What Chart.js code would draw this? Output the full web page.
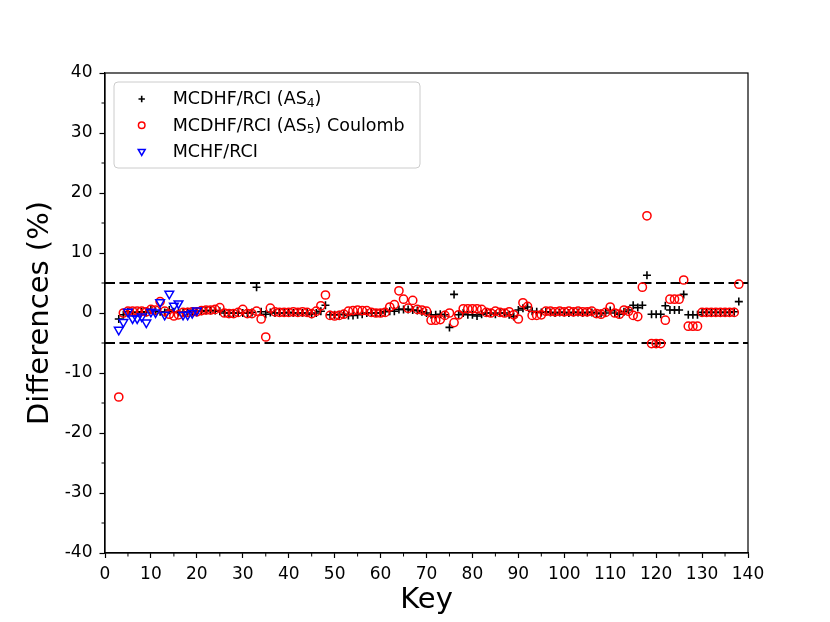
<!DOCTYPE html>
<html><head><meta charset="utf-8">
<script src="https://cdn.jsdelivr.net/npm/chart.js@4.4.1/dist/chart.umd.min.js"></script>
<style>html,body{margin:0;padding:0;background:#fff;}#wrap{width:830px;height:622px;}</style>
</head><body><div id="wrap"><canvas id="c" width="830" height="622"></canvas></div>
<script>
// ---- data ----
const keysAS4 = [3,4,5,6,7,8,9,10,11,12,13,14,15,16,17,18,19,20,21,22,23,24,25,26,27,28,29,30,31,32,33,34,35,36,37,38,39,40,41,42,43,44,45,46,47,48,49,50,51,52,53,54,55,56,57,58,59,60,61,62,63,64,65,66,67,68,69,70,71,72,73,74,75,76,77,78,79,80,81,82,83,84,85,86,87,88,89,90,91,92,93,94,95,96,97,98,99,100,101,102,103,104,105,106,107,108,109,110,111,112,113,114,115,116,117,118,119,120,121,122,123,124,125,126,127,128,129,130,131,132,133,134,135,136,137,138,120];
const diffAS4 = [-1.0,-0.3,0.2,0.1,0.1,0.2,0.1,0.5,0.3,0.2,0.1,0.5,0.2,0.1,0.1,0.2,0.2,0.3,0.3,0.4,0.4,0.4,0.3,0.0,0.0,0.0,0.0,0.0,0.0,0.1,4.3,0.2,-0.2,0.1,0.0,0.0,0.0,0.1,0.0,0.0,0.0,0.0,-0.2,0.0,0.3,1.3,-0.3,-0.3,-0.3,-0.2,-0.4,-0.4,-0.3,-0.2,0.0,0.0,0.0,0.0,0.2,0.3,0.3,0.6,0.6,0.6,0.5,0.4,0.2,0.0,-0.3,-0.3,-0.2,-0.3,-2.4,3.1,-0.3,0.0,-0.3,-0.3,-0.5,-0.2,0.0,0.0,-0.2,0.0,0.0,-0.3,-0.6,0.5,0.8,1.0,0.3,0.2,0.1,0.2,0.1,0.0,0.1,0.1,0.0,0.1,0.1,0.0,0.1,0.1,0.0,-0.1,0.0,0.4,0.0,-0.2,0.2,0.5,1.3,0.9,1.3,6.3,-0.2,-0.2,-0.2,1.2,0.5,0.5,0.5,3.1,-0.3,-0.3,-0.3,0.1,0.1,0.1,0.1,0.1,0.1,0.1,0.2,1.9,-5.1];

const keysAS5 = [3,4,5,6,7,8,9,10,11,12,13,14,15,16,17,18,19,20,21,22,23,24,25,26,27,28,29,30,31,32,33,34,35,36,37,38,39,40,41,42,43,44,45,46,47,48,49,50,51,52,53,54,55,56,57,58,59,60,61,62,63,64,65,66,67,68,69,70,71,72,73,74,75,76,77,78,79,80,81,82,83,84,85,86,87,88,89,90,91,92,93,94,95,96,97,98,99,100,101,102,103,104,105,106,107,108,109,110,111,112,113,114,115,116,117,118,119,120,121,122,123,124,125,126,127,128,129,130,131,132,133,134,135,136,137,138];
const diffAS5 = [-14.0,0.0,0.3,0.3,0.3,0.3,0.2,0.6,0.5,1.9,0.3,-0.2,-0.5,-0.3,0.1,0.1,0.2,0.2,0.4,0.5,0.5,0.6,0.9,0.0,-0.1,-0.1,0.1,0.6,-0.1,-0.1,0.3,-1.0,-4.0,0.8,0.2,0.1,0.1,0.1,0.2,0.1,0.2,0.1,-0.1,0.3,1.2,3.0,-0.4,-0.5,-0.4,-0.2,0.3,0.4,0.5,0.4,0.4,0.1,0.0,0.0,0.1,1.0,1.4,3.7,2.3,0.8,2.1,0.6,0.5,0.3,-1.2,-1.2,-1.1,-0.4,0.0,-1.6,-0.3,0.7,0.7,0.7,0.7,0.6,0.1,0.0,0.3,0.1,0.0,0.2,-0.3,-1.0,1.7,1.1,-0.4,-0.4,-0.3,0.3,0.3,0.2,0.3,0.2,0.3,0.2,0.3,0.2,0.2,0.3,-0.1,-0.2,0.1,1.0,0.0,-0.2,0.5,0.3,-0.4,-0.6,4.3,16.2,-5.1,-5.1,-5.1,-1.2,2.3,2.3,2.3,5.5,-2.2,-2.2,-2.2,0.1,0.1,0.1,0.1,0.1,0.1,0.1,0.1,4.8];

const keysMCHF = [3,4,5,6,7,8,9,10,11,12,13,14,15,16,17,18,19,20];
const diffMCHF = [-2.8,-1.5,0.2,-0.9,-0.9,-0.6,-1.6,0.2,0.1,1.8,-0.3,3.2,1.2,1.6,-0.3,-0.3,0.0,0.4];

const limitKeys = [0,140];
const upperLimit = [5,5];
const lowerLimit = [-5,-5];

const xTickMinor = [5,15,25,35,45,55,65,75,85,95,105,115,125,135];
const yTickMinor = [-35,-25,-15,-5,5,15,25,35];

const legendLabels = [
  [['MCDHF/RCI (AS',0],['4',1],[')',0]],
  [['MCDHF/RCI (AS',0],['5',1],[') Coulomb',0]],
  [['MCHF/RCI',0]]
];

const pts = (k,v) => k.map((x,i)=>({x:x,y:v[i]}));
const FONT = '"DejaVu Sans", "Liberation Sans", sans-serif';

const ds = [
  {label:'MCDHF/RCI (AS4)', data:pts(keysAS4,diffAS4), pointStyle:'cross', radius:4, borderColor:'#000', backgroundColor:'#000', borderWidth:1.6, showLine:false, order:3},
  {label:'MCDHF/RCI (AS5) Coulomb', data:pts(keysAS5,diffAS5), pointStyle:'circle', radius:4.1, borderColor:'#ff0000', backgroundColor:'rgba(0,0,0,0)', borderWidth:1.5, showLine:false, order:2},
  {label:'MCHF/RCI', data:pts(keysMCHF,diffMCHF), pointStyle:'triangle', rotation:180, radius:5, borderColor:'#0000ff', backgroundColor:'rgba(0,0,0,0)', borderWidth:1.5, showLine:false, order:1},
  {type:'line', label:'upper', data:pts(limitKeys,upperLimit), borderColor:'#000', borderWidth:1.9, borderDash:[10,4.5], pointRadius:0, fill:false, order:4},
  {type:'line', label:'lower', data:pts(limitKeys,lowerLimit), borderColor:'#000', borderWidth:1.9, borderDash:[10,4.5], pointRadius:0, fill:false, order:4}
];

const decor = {
  id:'decor',
  afterDraw(chart){
    const {ctx, chartArea:a, scales} = chart;
    const x = scales.x, y = scales.y;
    ctx.save();
    ctx.strokeStyle = '#000';
    ctx.lineWidth = 1.2;
    ctx.strokeRect(a.left, a.top, a.right-a.left, a.bottom-a.top);
    ctx.lineWidth = 1;
    xTickMinor.forEach(v=>{const p=x.getPixelForValue(v);ctx.beginPath();ctx.moveTo(p,a.bottom);ctx.lineTo(p,a.bottom+3.5);ctx.stroke();});
    yTickMinor.forEach(v=>{const p=y.getPixelForValue(v);ctx.beginPath();ctx.moveTo(a.left,p);ctx.lineTo(a.left-3.5,p);ctx.stroke();});
    // legend
    const bx = a.left+9, by = a.top+9, bw = 306, bh = 86;
    ctx.beginPath();
    ctx.roundRect(bx, by, bw, bh, 4);
    ctx.fillStyle = 'rgba(255,255,255,0.8)';
    ctx.fill();
    ctx.strokeStyle = '#cccccc';
    ctx.lineWidth = 1;
    ctx.stroke();
    const base = [a.top+31.3, a.top+57.5, a.top+83.7];
    ds.slice(0,3).forEach((d,i)=>{
      ctx.strokeStyle = d.borderColor;
      ctx.fillStyle = d.backgroundColor;
      ctx.lineWidth = d.borderWidth;
      Chart.helpers.drawPoint(ctx, {pointStyle:d.pointStyle, radius:d.radius*0.8, rotation:d.rotation||0, borderWidth:d.borderWidth}, a.left+36.7, base[i]-5.3);
      let tx = a.left+67.7;
      ctx.fillStyle = '#000';
      ctx.textBaseline = 'alphabetic';
      ctx.textAlign = 'left';
      legendLabels[i].forEach(([t,sub])=>{
        ctx.font = (sub? '12.3px ' : '17.5px ') + FONT;
        ctx.fillText(t, tx, base[i] + (sub?2.6:0));
        tx += ctx.measureText(t).width;
      });
    });
    ctx.restore();
  }
};

new Chart(document.getElementById('c'), {
  type:'scatter',
  data:{datasets:ds},
  options:{
    responsive:false, animation:false,
    layout:{padding:{left:0,top:73,right:82,bottom:0}},
    plugins:{legend:{display:false}, tooltip:{enabled:false}},
    scales:{
      x:{type:'linear', min:0, max:140,
        ticks:{stepSize:10, color:'#000', font:{family:FONT,size:17}, padding:6, maxRotation:0},
        grid:{display:true, drawOnChartArea:false, drawTicks:true, tickLength:5, tickColor:'#000', tickWidth:1.2},
        border:{display:true, color:'#000', width:1.2},
        title:{display:true, text:'Key', color:'#000', font:{family:FONT,size:29}, padding:{top:0,bottom:4}},
        afterFit(s){ s.height = 69; }
      },
      y:{type:'linear', min:-40, max:40,
        ticks:{stepSize:10, color:'#000', font:{family:FONT,size:17}, padding:7},
        grid:{display:true, drawOnChartArea:false, drawTicks:true, tickLength:5.5, tickColor:'#000', tickWidth:1.2},
        border:{display:true, color:'#000', width:1.2},
        title:{display:true, text:'Differences (%)', color:'#000', font:{family:FONT,size:29}, padding:{top:23,bottom:0}},
        afterFit(s){ s.width = 105; }
      }
    }
  },
  plugins:[decor]
});
</script></body></html>
